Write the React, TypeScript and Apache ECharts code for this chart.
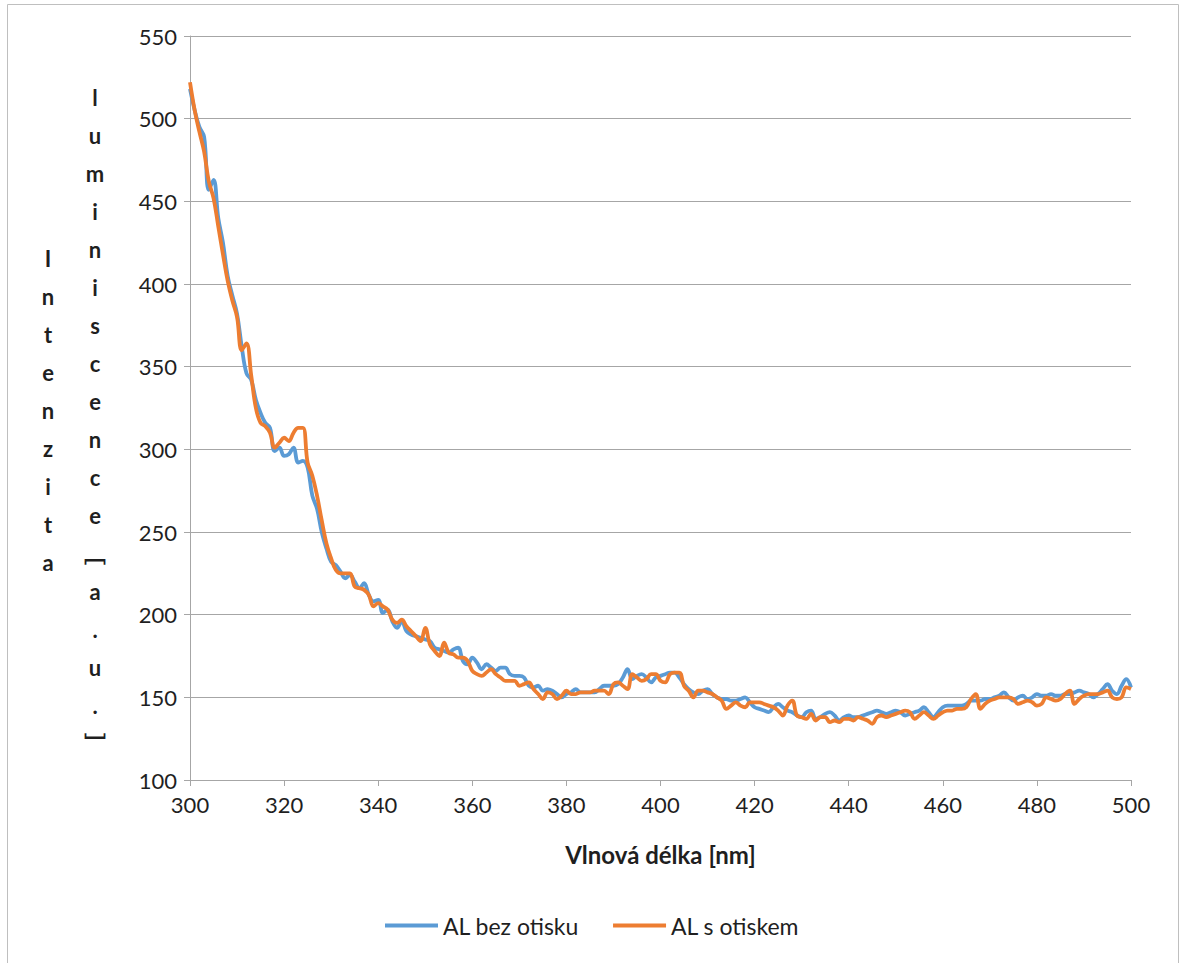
import React, { useEffect, useRef } from "react";
import * as echarts from "echarts";

// Emission spectra, one reading per nanometre starting at 300 nm
const wavelengthStart = 300;

const alBezOtisku: number[] = [
  // 300-309
  518, 505, 495, 489, 457, 463, 440, 425, 405, 393,
  // 310-319
  382, 362, 346, 342, 330, 322, 316, 313, 299, 301,
  // 320-329
  296, 297, 301, 292, 293, 289, 272, 264, 250, 240,
  // 330-339
  232, 230, 226, 222, 224, 220, 216, 219, 212, 208,
  // 340-349
  209, 201, 203, 196, 192, 196, 190, 188, 187, 186,
  // 350-359
  185, 184, 180, 179, 178, 177, 179, 180, 172, 170,
  // 360-369
  174, 171, 167, 170, 168, 166, 168, 168, 164, 163,
  // 370-379
  163, 162, 157, 156, 157, 154, 155, 154, 152, 150,
  // 380-389
  152, 153, 155, 153, 153, 153, 153, 155, 157, 157,
  // 390-399
  157, 158, 162, 167, 161, 163, 164, 162, 159, 162,
  // 400-409
  163, 164, 165, 165, 162, 158, 155, 153, 152, 154,
  // 410-419
  155, 152, 150, 149, 149, 148, 148, 149, 150, 147,
  // 420-429
  144, 143, 142, 141, 144, 146, 144, 142, 141, 139,
  // 430-439
  138, 141, 142, 137, 138, 140, 141, 139, 136, 138,
  // 440-449
  139, 138, 138, 139, 140, 141, 142, 141, 140, 141,
  // 450-459
  142, 141, 139, 140, 141, 142, 144, 141, 138, 141,
  // 460-469
  144, 145, 145, 145, 145, 146, 148, 148, 148, 149,
  // 470-479
  149, 150, 151, 153, 150, 148, 150, 151, 149, 150,
  // 480-489
  152, 151, 151, 152, 151, 151, 152, 152, 153, 154,
  // 490-499
  153, 152, 150, 152, 155, 158, 154, 152, 157, 161,
  // 500
  156,
];

const alSOtiskem: number[] = [
  // 300-309
  522, 505, 492, 480, 462, 452, 435, 418, 402, 390,
  // 310-319
  380, 360, 364, 345, 325, 316, 314, 310, 301, 304,
  // 320-329
  307, 305, 310, 313, 313, 292, 284, 272, 257, 243,
  // 330-339
  234, 227, 225, 225, 225, 217, 216, 215, 212, 205,
  // 340-349
  207, 205, 203, 197, 195, 197, 193, 190, 187, 184,
  // 350-359
  192, 182, 178, 175, 183, 177, 176, 174, 174, 172,
  // 360-369
  166, 164, 163, 165, 167, 164, 162, 160, 160, 160,
  // 370-379
  157, 158, 159, 155, 152, 149, 153, 152, 149, 151,
  // 380-389
  154, 152, 152, 153, 153, 153, 154, 154, 154, 152,
  // 390-399
  158, 159, 157, 155, 164, 162, 160, 161, 164, 164,
  // 400-409
  160, 159, 164, 165, 165, 157, 154, 150, 154, 154,
  // 410-419
  153, 152, 150, 148, 143, 145, 147, 145, 144, 147,
  // 420-429
  147, 147, 146, 145, 144, 142, 139, 145, 148, 139,
  // 430-439
  138, 137, 140, 136, 138, 138, 135, 136, 135, 137,
  // 440-449
  137, 136, 138, 137, 136, 134, 138, 139, 138, 139,
  // 450-459
  140, 141, 142, 141, 137, 139, 141, 139, 137, 139,
  // 460-469
  141, 142, 142, 143, 143, 144, 149, 152, 143, 146,
  // 470-479
  148, 149, 150, 150, 150, 149, 146, 147, 148, 147,
  // 480-489
  145, 146, 150, 149, 148, 149, 152, 154, 146, 149,
  // 490-499
  151, 152, 152, 152, 153, 154, 150, 149, 150, 156,
  // 500
  155,
];

const seriesNames = ["AL bez otisku", "AL s otiskem"];
const seriesColors = ["#5B9BD5", "#ED7D31"];

const xRange = { min: 300, max: 500, step: 20 };
const yRange = { min: 100, max: 550, step: 50 };

const xTitle = "Vlnová délka [nm]";
// Stacked vertical axis title, two columns as in the worksheet chart
const yTitleColumns = ["Intenzita", "luminiscence \uFE47a.u.\uFE48"];

const FONT = "Lato, 'Noto Sans', 'Noto Sans CJK SC', sans-serif";
const GRID_GRAY = "#a6a6a6";
const TEXT = "#1f1f1f";

const toPairs = (values: number[]) =>
  values.map((v, i) => [wavelengthStart + i, v]);

const stacked = (s: string) =>
  Array.from(s.replace(/ /g, "")).join("\n");

export default function App() {
  const ref = useRef<HTMLDivElement>(null);

  useEffect(() => {
    if (!ref.current) return;
    const chart = echarts.init(ref.current, undefined, { renderer: "svg" });

    const option: echarts.EChartsOption = {
      animation: false,
      backgroundColor: "#ffffff",
      textStyle: { fontFamily: FONT },
      grid: { left: 190, right: 50, top: 36, bottom: 183, containLabel: false },
      legend: {
        data: seriesNames,
        icon: "rect",
        left: 385,
        top: 914,
        padding: 0,
        itemWidth: 53,
        itemHeight: 4,
        itemGap: 34,
        textStyle: { fontFamily: FONT, fontSize: 23, color: TEXT },
      },
      xAxis: {
        type: "value",
        min: xRange.min,
        max: xRange.max,
        interval: xRange.step,
        name: xTitle,
        nameLocation: "middle",
        nameGap: 62,
        nameTextStyle: {
          fontFamily: FONT,
          fontSize: 24,
          fontWeight: "bold",
          color: TEXT,
        },
        axisLine: { show: true, lineStyle: { color: GRID_GRAY, width: 1 } },
        axisTick: { show: true, length: 6, lineStyle: { color: GRID_GRAY } },
        axisLabel: { fontFamily: FONT, fontSize: 22, color: TEXT, margin: 13 },
        splitLine: { show: false },
      },
      yAxis: {
        type: "value",
        min: yRange.min,
        max: yRange.max,
        interval: yRange.step,
        axisLine: { show: true, lineStyle: { color: GRID_GRAY, width: 1 } },
        axisTick: { show: true, length: 6, lineStyle: { color: GRID_GRAY } },
        axisLabel: { fontFamily: FONT, fontSize: 22, color: TEXT, margin: 13 },
        splitLine: { show: true, lineStyle: { color: GRID_GRAY, width: 1 } },
      },
      series: [alBezOtisku, alSOtiskem].map((values, i) => ({
        name: seriesNames[i],
        type: "line" as const,
        data: toPairs(values),
        symbol: "none",
        showSymbol: false,
        smooth: 0.4,
        color: seriesColors[i],
        lineStyle: { color: seriesColors[i], width: 3.8 },
        z: 2 + i,
      })),
      graphic: [
        {
          type: "rect",
          shape: { x: 7.5, y: 4.5, width: 1171, height: 1000 },
          style: { fill: "none", stroke: "#bfbfbf", lineWidth: 1 },
          silent: true,
          z: -1,
        },
        {
          type: "text",
          x: 48,
          y: 239,
          style: {
            text: stacked(yTitleColumns[0]),
            font: `bold 22px ${FONT}`,
            fill: TEXT,
            align: "center",
            verticalAlign: "top",
            lineHeight: 38,
          },
        },
        {
          type: "text",
          x: 95,
          y: 78,
          style: {
            text: stacked(yTitleColumns[1]),
            font: `bold 22px ${FONT}`,
            fill: TEXT,
            align: "center",
            verticalAlign: "top",
            lineHeight: 38,
          },
        },
      ],
    };

    chart.setOption(option);
    return () => chart.dispose();
  }, []);

  return (
    <div
      ref={ref}
      style={{ position: "fixed", left: 0, top: 0, width: 1181, height: 963 }}
    />
  );
}
